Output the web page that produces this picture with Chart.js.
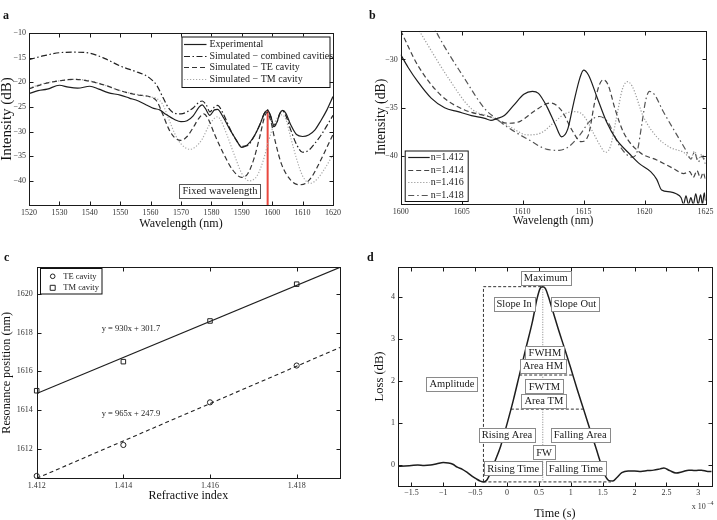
<!DOCTYPE html>
<html>
<head>
<meta charset="utf-8">
<script src="https://cdn.jsdelivr.net/npm/chart.js@4.4.1/dist/chart.umd.min.js"></script>
<style>
  body { margin: 0; background: #fff; width: 717px; height: 520px; position: relative; overflow: hidden; }
  canvas { position: absolute; }
  .lab { position: absolute; font: bold 12px "Liberation Serif", serif; color: #111; }
</style>
</head>
<body>
<canvas id="ca" width="358" height="250" style="left:0;top:0"></canvas>
<canvas id="cb" width="359" height="250" style="left:358px;top:0"></canvas>
<canvas id="cc" width="358" height="270" style="left:0;top:250px"></canvas>
<canvas id="cd" width="359" height="270" style="left:358px;top:250px"></canvas>
<div class="lab" style="left:3px;top:8px">a</div>
<div class="lab" style="left:369px;top:8px">b</div>
<div class="lab" style="left:4px;top:250px">c</div>
<div class="lab" style="left:367px;top:250px">d</div>
<script>
const SERIF = '"Liberation Serif", "Times New Roman", serif';

// ---- panel a : spectra ----
const aTicksX = [1520, 1530, 1540, 1550, 1560, 1570, 1580, 1590, 1600, 1610, 1620];
const aTicksY = [-40, -35, -30, -25, -20, -15, -10];
const aExperimental = [[1520,-22.3],[1523,-21.7],[1526,-21.4],[1530,-20.6],[1533,-21.0],[1536,-21.2],[1540,-20.8],[1543,-21.4],[1546,-22.1],[1550,-22.6],[1553,-23.2],[1556,-23.8],[1559,-24.7],[1561,-25.3],[1563,-25.6],[1565,-26.5],[1568,-27.6],[1570,-28.0],[1572,-27.8],[1574,-26.8],[1576,-25.0],[1577,-24.6],[1578,-25.3],[1579.5,-26.7],[1581,-25.6],[1582,-25.5],[1584,-27.2],[1586,-29.5],[1588,-31.5],[1590,-33.2],[1591,-33.0],[1592,-32.6],[1594,-31.0],[1596,-28.5],[1597.5,-26.2],[1598.5,-25.7],[1599.5,-26.8],[1600.5,-28.7],[1601.5,-28.2],[1602.5,-26.3],[1603.5,-25.7],[1604.5,-26.3],[1606,-28.5],[1608,-30.6],[1610,-31.0],[1612,-30.7],[1614,-29.7],[1616,-27.8],[1618,-25.6],[1620,-22.9]];
const aCombined = [[1520,-15.4],[1525,-14.6],[1530,-14.0],[1535,-13.9],[1540,-14.1],[1545,-15.2],[1550,-16.7],[1555,-17.8],[1558,-18.5],[1560,-19.3],[1562,-20.6],[1564,-23.0],[1566,-25.3],[1568,-26.3],[1570,-26.4],[1572,-26.0],[1574,-25.2],[1576,-24.0],[1577,-23.8],[1578.3,-24.6],[1579.5,-26.0],[1581,-25.0],[1582,-24.7],[1584,-26.5],[1586,-29.3],[1588,-31.6],[1590,-33.0],[1592,-32.8],[1594,-31.0],[1596,-28.5],[1597.5,-26.2],[1598.5,-25.6],[1599.5,-27.0],[1600.5,-29.0],[1601.5,-28.3],[1602.5,-26.4],[1603.5,-25.9],[1604.5,-26.8],[1606,-29.5],[1608,-32.6],[1610,-34.2],[1612,-33.8],[1614,-32.4],[1616,-30.8],[1618,-28.8],[1620,-26.7]];
const aTE = [[1520,-21.3],[1525,-20.3],[1530,-19.7],[1535,-19.4],[1540,-19.8],[1545,-20.6],[1550,-21.7],[1555,-22.5],[1560,-23.0],[1562,-23.8],[1564,-26.5],[1566,-29.5],[1568,-31.3],[1570,-31.8],[1572,-31.0],[1574,-29.2],[1576,-27.2],[1577.5,-26.4],[1579,-27.5],[1581,-30.5],[1584,-34.5],[1587,-37.8],[1590,-39.3],[1592,-38.5],[1594,-35.5],[1596,-30.8],[1597.5,-27.0],[1598.3,-26.1],[1599.5,-27.8],[1601,-32.0],[1603,-36.5],[1606,-39.8],[1609,-40.8],[1611,-40.5],[1613,-39.2],[1615,-37.0],[1617,-34.5],[1620,-30.6]];
const aTM = [[1520,-21.2],[1525,-20.2],[1530,-19.7],[1535,-19.4],[1540,-19.7],[1545,-20.6],[1550,-21.7],[1555,-22.4],[1558,-22.8],[1560,-23.0],[1562,-23.3],[1564,-24.5],[1566,-27.5],[1568,-30.5],[1570,-32.5],[1573,-33.6],[1575,-33.0],[1577,-31.5],[1579,-29.0],[1581,-27.3],[1582,-27.0],[1583,-27.6],[1585,-30.5],[1588,-35.5],[1590,-38.5],[1592.5,-40.0],[1595,-39.0],[1597,-36.0],[1599,-31.5],[1601,-28.0],[1603,-26.6],[1604.5,-27.5],[1606,-31.0],[1608,-35.5],[1610,-39.0],[1612.5,-40.5],[1615,-39.5],[1617,-37.8],[1620,-34.7]];
const fixedWavelength = 1598.5;
const fixedLevels = [-44.9, -25.7];

// ---- panel b : index sweep ----
const bTicksX = [1600, 1605, 1610, 1615, 1620, 1625];
const bTicksY = [-40, -35, -30];
const n1412 = [[1600,-29.5],[1600.6,-30.8],[1601.4,-32.3],[1602.5,-34.0],[1603.6,-35.0],[1604.7,-35.4],[1605.8,-35.8],[1606.9,-36.1],[1607.4,-36.3],[1607.9,-36.1],[1608.5,-35.8],[1609.3,-34.7],[1610.1,-33.6],[1610.8,-33.3],[1611.3,-33.5],[1612.0,-34.9],[1612.7,-36.8],[1613.2,-38.0],[1613.7,-37.2],[1614.2,-34.4],[1614.7,-31.9],[1615.0,-31.1],[1615.4,-31.6],[1616.1,-33.9],[1616.9,-36.5],[1617.7,-38.3],[1618.8,-39.8],[1619.6,-40.8],[1620.5,-41.6],[1621.0,-42.4],[1621.4,-43.5],[1622.1,-43.7],[1622.6,-43.9],[1623.0,-44.3],[1623.2,-45],[1623.4,-44.1],[1623.6,-45],[1623.8,-44.3],[1624.0,-45],[1624.2,-43.9],[1624.4,-45],[1624.6,-44.0],[1624.75,-45],[1624.9,-43.8],[1625,-44.6]];
const n1414 = [[1600,-27.0],[1601.4,-30.6],[1603.3,-33.7],[1605.2,-35.2],[1607.5,-36.0],[1608.8,-36.6],[1609.8,-36.4],[1611.0,-35.3],[1612.3,-34.5],[1613.2,-35.3],[1614.0,-37.2],[1614.8,-38.5],[1615.4,-37.8],[1615.9,-34.5],[1616.3,-32.6],[1616.6,-32.1],[1617.0,-32.6],[1617.6,-35.2],[1618.3,-37.6],[1619.6,-39.6],[1621.0,-40.4],[1622.4,-41.3],[1623.2,-41.8],[1623.7,-41.6],[1624.0,-42.2],[1624.3,-41.5],[1624.6,-42.3],[1624.8,-41.7],[1625,-42.4]];
const n1416 = [[1601.0,-26.0],[1601.5,-27.0],[1603.9,-31.9],[1605.8,-35.1],[1607.5,-36.0],[1609.0,-37.0],[1610.4,-37.8],[1611.5,-37.6],[1612.5,-36.6],[1613.5,-35.6],[1614.3,-35.4],[1615.0,-35.8],[1615.8,-37.6],[1616.4,-39.0],[1616.8,-39.6],[1617.2,-39.0],[1617.7,-36.0],[1618.2,-33.0],[1618.6,-32.3],[1619.0,-32.8],[1619.9,-35.9],[1621.0,-38.0],[1622.1,-39.1],[1623.2,-39.6],[1623.8,-40.2],[1624.1,-39.5],[1624.4,-40.3],[1624.7,-39.8],[1625,-40.5]];
const n1418 = [[1602.5,-26.0],[1602.9,-27.1],[1605.2,-31.9],[1606.9,-35.1],[1607.7,-36.0],[1609.0,-37.2],[1610.5,-38.3],[1612.0,-39.3],[1613.0,-39.4],[1613.8,-39.0],[1614.7,-37.8],[1615.5,-36.4],[1616.3,-35.9],[1617.0,-36.5],[1617.8,-38.6],[1618.5,-39.8],[1619.0,-40.1],[1619.4,-39.5],[1619.8,-36.5],[1620.1,-34.2],[1620.4,-33.3],[1620.8,-33.6],[1621.5,-35.3],[1622.6,-37.7],[1623.4,-39.4],[1623.8,-40.3],[1624.1,-39.6],[1624.4,-40.6],[1624.7,-40.0],[1625,-40.8]];

// ---- panel c : resonance vs index ----
const cIndex = [1.412, 1.414, 1.416, 1.418];
const cTE = [1610.6, 1612.2, 1614.4, 1616.3];
const cTM = [1615.0, 1616.5, 1618.6, 1620.5];
const cFitTM = [[1.412, 1614.86], [1.419, 1621.37]];
const cFitTE = [[1.412, 1610.48], [1.419, 1617.23]];
const cTicksY = [1612, 1614, 1616, 1618, 1620];

// ---- panel d : loss transient ----
const dTicksX = [-1.5, -1, -0.5, 0, 0.5, 1, 1.5, 2, 2.5, 3];
const dTicksY = [0, 1, 2, 3, 4];
const lossCurve = [[-1.71,-0.03],[-1.6,-0.02],[-1.5,-0.01],[-1.4,0.0],[-1.3,-0.01],[-1.2,0.0],[-1.1,0.03],[-1.0,0.06],[-0.92,0.05],[-0.85,0.02],[-0.78,-0.05],[-0.7,-0.1],[-0.62,-0.18],[-0.55,-0.26],[-0.48,-0.33],[-0.42,-0.38],[-0.37,-0.4],[-0.32,-0.36],[-0.27,-0.22],[-0.2,0.05],[-0.1,0.45],[0.0,0.98],[0.1,1.55],[0.2,2.18],[0.3,2.8],[0.4,3.42],[0.47,3.95],[0.52,4.2],[0.56,4.24],[0.6,4.2],[0.65,4.0],[0.7,3.75],[0.8,3.25],[0.9,2.78],[1.0,2.3],[1.1,1.8],[1.2,1.33],[1.3,0.85],[1.4,0.38],[1.48,0.0],[1.54,-0.25],[1.6,-0.37],[1.66,-0.38],[1.72,-0.3],[1.8,-0.18],[1.9,-0.14],[2.0,-0.14],[2.1,-0.15],[2.2,-0.13],[2.3,-0.12],[2.4,-0.09],[2.46,-0.07],[2.55,-0.13],[2.65,-0.19],[2.75,-0.16],[2.85,-0.12],[2.95,-0.13],[3.05,-0.12],[3.15,-0.15],[3.21,-0.15]];
const ampLine = [[-0.37,-0.4],[-0.37,4.24],[0.56,4.24]];
const baseLine = [[-0.37,-0.4],[1.63,-0.4]];
const hmLine = [[0.19,2.14],[1.03,2.14]];
const tmLine = [[0.06,1.33],[1.2,1.33]];
const peakLine = [[0.56,4.24],[0.56,-0.4]];
const dLabels = ['Maximum','Slope In','Slope Out','FWHM','Area HM','FWTM','Area TM','Amplitude','Rising Area','Falling Area','FW','Rising Time','Falling Time'];
const dLabelPos = [[0.607,4.44],[0.11,3.83],[1.066,3.83],[0.594,2.67],[0.564,2.35],[0.586,1.87],[0.578,1.53],[-0.864,1.93],[0.0,0.72],[1.147,0.72],[0.58,0.30],[0.097,-0.08],[1.08,-0.08]];

const pts = arr => arr.map(([x, y]) => ({x, y}));
const minus = v => String(v).replace('-', '\u2212');

// box border + inward ticks on all four sides, matlab style
const framePlugin = {
  id: 'frame',
  afterDatasetsDraw(chart) {
    const {ctx, chartArea: a, scales: {x, y}} = chart;
    ctx.save();
    ctx.strokeStyle = '#1a1a1a';
    ctx.lineWidth = 1;
    const L = Math.round(a.left) + 0.5, T = Math.round(a.top) + 0.5;
    const R = Math.round(a.right) + 0.5, B = Math.round(a.bottom) + 0.5;
    ctx.strokeRect(L, T, R - L, B - T);
    ctx.beginPath();
    x.ticks.forEach(t => {
      const p = Math.round(x.getPixelForValue(t.value)) + 0.5;
      ctx.moveTo(p, B); ctx.lineTo(p, B - 4);
      ctx.moveTo(p, T); ctx.lineTo(p, T + 4);
    });
    y.ticks.forEach(t => {
      const p = Math.round(y.getPixelForValue(t.value)) + 0.5;
      ctx.moveTo(L, p); ctx.lineTo(L + 4, p);
      ctx.moveTo(R, p); ctx.lineTo(R - 4, p);
    });
    ctx.stroke();
    ctx.restore();
  }
};
Chart.register(framePlugin);

function textBox(ctx, text, cx, cy, size, border) {
  ctx.font = size + 'px ' + SERIF;
  const w = Math.round(ctx.measureText(text).width + 6);
  const h = Math.round(size + 3);
  const x0 = Math.round(cx - w / 2) + 0.5, y0 = Math.round(cy - h / 2) + 0.5;
  ctx.fillStyle = '#fff';
  ctx.fillRect(x0, y0, w, h);
  ctx.strokeStyle = border;
  ctx.lineWidth = 1;
  ctx.strokeRect(x0, y0, w, h);
  ctx.fillStyle = '#1a1a1a';
  ctx.textAlign = 'center';
  ctx.textBaseline = 'middle';
  ctx.fillText(text, cx, cy + 0.5);
}

function lineLegend(chart, idx, box, rowY, sx0, sx1, tx, size) {
  const ctx = chart.ctx;
  ctx.save();
  ctx.fillStyle = '#fff';
  ctx.fillRect(box[0], box[1], box[2], box[3]);
  ctx.strokeStyle = '#111';
  ctx.lineWidth = 1;
  ctx.strokeRect(box[0] + 0.5, box[1] + 0.5, box[2], box[3]);
  ctx.font = size + 'px ' + SERIF;
  ctx.textAlign = 'left';
  ctx.textBaseline = 'middle';
  idx.forEach((di, i) => {
    const ds = chart.data.datasets[di];
    const y = Math.round(rowY[i]) + 0.5;
    ctx.strokeStyle = ds.borderColor;
    ctx.lineWidth = ds.borderWidth;
    ctx.setLineDash(ds.borderDash || []);
    ctx.beginPath(); ctx.moveTo(sx0, y); ctx.lineTo(sx1, y); ctx.stroke();
    ctx.setLineDash([]);
    ctx.fillStyle = '#1a1a1a';
    ctx.fillText(ds.label, tx, y);
  });
  ctx.restore();
}

function panel(id, plot, xs, ys, datasets, extra) {
  const cv = document.getElementById(id);
  const W = cv.width, H = cv.height;
  const tickFont = {family: SERIF, size: 8};
  return new Chart(cv, {
    type: 'line',
    data: {datasets},
    options: {
      responsive: false,
      animation: false,
      devicePixelRatio: 1,
      layout: {padding: {left: 0, top: plot.t, right: W - plot.r, bottom: 0}},
      plugins: {legend: {display: false}, tooltip: {enabled: false}},
      elements: {point: {radius: 0}, line: {borderWidth: 1.2}},
      scales: {
        x: {
          type: 'linear', min: xs.min, max: xs.max,
          grid: {display: false, drawTicks: false}, border: {display: false},
          afterBuildTicks: s => { s.ticks = xs.ticks.map(v => ({value: v})); },
          afterFit: s => { s.height = H - plot.b; },
          ticks: {font: tickFont, color: '#333', padding: xs.pad, maxRotation: 0, autoSkip: false, callback: v => minus(v)},
          title: {display: true, text: xs.title, color: '#111',
                  font: {family: SERIF, size: xs.size, lineHeight: xs.lh || 1.2},
                  padding: {top: 0, bottom: xs.tpad}}
        },
        y: {
          type: 'linear', min: ys.min, max: ys.max,
          grid: {display: false, drawTicks: false}, border: {display: false},
          afterBuildTicks: s => { s.ticks = ys.ticks.map(v => ({value: v})); },
          afterFit: s => { s.width = plot.l; },
          ticks: {font: tickFont, color: '#333', padding: ys.pad, autoSkip: false, callback: v => minus(v)},
          title: {display: true, text: ys.title, color: '#111',
                  font: {family: SERIF, size: ys.size, lineHeight: ys.lh || 1.2},
                  padding: {top: ys.tpad, bottom: 0}}
        }
      }
    },
    plugins: [extra]
  });
}

const mono = 'monotone';

// panel a
panel('ca', {l: 29, t: 33, r: 333, b: 205},
  {min: 1520, max: 1620, ticks: aTicksX, pad: 3, title: 'Wavelength (nm)', size: 12, tpad: 18.8},
  {min: -44.9, max: -10, ticks: aTicksY, pad: 3, title: 'Intensity (dB)', size: 15, lh: 1.0, tpad: 0},
  [
    {label: 'Experimental', data: pts(aExperimental), borderColor: '#1e1e1e', borderWidth: 1.2, cubicInterpolationMode: mono},
    {label: 'Simulated \u2212 combined cavities', data: pts(aCombined), borderColor: '#222', borderWidth: 1.2, borderDash: [6, 2.5, 1.5, 2.5], cubicInterpolationMode: mono},
    {label: 'Simulated \u2212 TE cavity', data: pts(aTE), borderColor: '#333', borderWidth: 1.2, borderDash: [5, 3], cubicInterpolationMode: mono},
    {label: 'Simulated \u2212 TM cavity', data: pts(aTM), borderColor: '#a8a8a8', borderWidth: 1.2, borderDash: [1.2, 1.8], cubicInterpolationMode: mono},
    {label: 'fixed', data: fixedLevels.map(v => ({x: fixedWavelength, y: v})), borderColor: '#e9483f', borderWidth: 2, tension: 0}
  ],
  {id: 'aNotes', afterDraw(chart) {
    const {ctx, scales: {x, y}, chartArea: a} = chart;
    ctx.save();
    textBox(ctx, 'Fixed wavelength', x.getPixelForValue(1582.8), y.getPixelForValue(-42.0), 10.5, '#555');
    ctx.restore();
    lineLegend(chart, [0, 1, 2, 3], [a.left + 152.5, a.top + 3.5, 148, 50.5],
      [a.top + 10.5, a.top + 22.5, a.top + 34.3, a.top + 46], a.left + 155, a.left + 177.5, a.left + 180.5, 10);
  }});

// panel b
panel('cb', {l: 42.7, t: 30.5, r: 349, b: 203.5},
  {min: 1600, max: 1625, ticks: bTicksX, pad: 3.5, title: 'Wavelength (nm)', size: 11.6, tpad: 22.3},
  {min: -44.9, max: -27, ticks: bTicksY, pad: 3, title: 'Intensity (dB)', size: 13.7, tpad: 14.8},
  [
    {label: 'n=1.412', data: pts(n1412), borderColor: '#1e1e1e', borderWidth: 1.2, cubicInterpolationMode: mono},
    {label: 'n=1.414', data: pts(n1414), borderColor: '#444', borderWidth: 1.2, borderDash: [5, 3], cubicInterpolationMode: mono},
    {label: 'n=1.416', data: pts(n1416), borderColor: '#9a9a9a', borderWidth: 1.2, borderDash: [1.2, 1.8], cubicInterpolationMode: mono},
    {label: 'n=1.418', data: pts(n1418), borderColor: '#555', borderWidth: 1.2, borderDash: [6, 3, 1.5, 3], cubicInterpolationMode: mono}
  ],
  {id: 'bNotes', afterDraw(chart) {
    const a = chart.chartArea;
    lineLegend(chart, [0, 1, 2, 3], [a.left + 4, 150.5, 63, 50.5],
      [157, 169.5, 182, 194.5], a.left + 7.5, a.left + 29, a.left + 30, 10);
  }});

// panel c
panel('cc', {l: 36.7, t: 17.3, r: 340, b: 228.3},
  {min: 1.412, max: 1.419, ticks: cIndex, pad: 2.5, title: 'Refractive index', size: 12, tpad: 17.1},
  {min: 1610.48, max: 1621.37, ticks: cTicksY, pad: 4, title: 'Resonance position (nm)', size: 12.2, lh: 1.0, tpad: 0.6},
  [
    {label: 'TE cavity', data: cIndex.map((v, i) => ({x: v, y: cTE[i]})), showLine: false, pointStyle: 'circle', pointRadius: 2.6, borderColor: '#222', backgroundColor: 'rgba(0,0,0,0)', pointBorderWidth: 1, clip: false},
    {label: 'TM cavity', data: cIndex.map((v, i) => ({x: v, y: cTM[i]})), showLine: false, pointStyle: 'rect', pointRadius: 3.2, borderColor: '#222', backgroundColor: 'rgba(0,0,0,0)', pointBorderWidth: 1, clip: false},
    {label: 'TM fit', data: pts(cFitTM), borderColor: '#1e1e1e', borderWidth: 1.1, tension: 0},
    {label: 'TE fit', data: pts(cFitTE), borderColor: '#222', borderWidth: 1.1, borderDash: [4, 3], tension: 0}
  ],
  {id: 'cNotes', afterDraw(chart) {
    const {ctx, scales: {x, y}, chartArea: a} = chart;
    ctx.save();
    ctx.font = '8.5px ' + SERIF;
    ctx.fillStyle = '#222';
    ctx.textAlign = 'left';
    ctx.textBaseline = 'middle';
    ctx.fillText('y = 930x + 301.7', x.getPixelForValue(1.4135), y.getPixelForValue(1618.18));
    ctx.fillText('y = 965x + 247.9', x.getPixelForValue(1.4135), y.getPixelForValue(1613.83));
    // legend with markers
    const bx = a.left + 3.5, by = a.top + 1;
    ctx.fillStyle = '#fff';
    ctx.fillRect(bx, by, 61.5, 25.5);
    ctx.strokeStyle = '#111';
    ctx.lineWidth = 1;
    ctx.strokeRect(Math.round(bx) + 0.5, Math.round(by) + 0.5, 61.5, 25.5);
    const rows = [by + 8, by + 19.5];
    [0, 1].forEach(i => {
      const ds = chart.data.datasets[i];
      const mx = a.left + 16, my = rows[i];
      ctx.strokeStyle = '#222';
      ctx.beginPath();
      if (ds.pointStyle === 'circle') ctx.arc(mx, my, 2.3, 0, Math.PI * 2);
      else ctx.rect(mx - 2.5, my - 2.5, 5, 5);
      ctx.stroke();
      ctx.fillStyle = '#1a1a1a';
      ctx.font = '8.5px ' + SERIF;
      ctx.fillText(ds.label, a.left + 26.6, my);
    });
    ctx.restore();
  }});

// panel d
panel('cd', {l: 40, t: 17.3, r: 353.7, b: 235.7},
  {min: -1.71, max: 3.21, ticks: dTicksX, pad: 2, title: 'Time (s)', size: 12.2, lh: 1.0, tpad: 0},
  {min: -0.49, max: 4.7, ticks: dTicksY, pad: 3, title: 'Loss (dB)', size: 12.6, tpad: 14.1},
  [
    {label: 'loss', data: pts(lossCurve), borderColor: '#1e1e1e', borderWidth: 1.5, cubicInterpolationMode: mono},
    {label: 'amp', data: pts(ampLine), borderColor: '#333', borderWidth: 1, borderDash: [3, 2], tension: 0},
    {label: 'base', data: pts(baseLine), borderColor: '#333', borderWidth: 1, borderDash: [3, 2], tension: 0},
    {label: 'hm', data: pts(hmLine), borderColor: '#333', borderWidth: 1, borderDash: [3, 2], tension: 0},
    {label: 'tm', data: pts(tmLine), borderColor: '#333', borderWidth: 1, borderDash: [3, 2], tension: 0},
    {label: 'peak', data: pts(peakLine), borderColor: '#999', borderWidth: 1.2, borderDash: [1, 1.5], tension: 0}
  ],
  {id: 'dNotes', afterDraw(chart) {
    const {ctx, scales: {x, y}, chartArea: a} = chart;
    ctx.save();
    dLabels.forEach((t, i) => {
      textBox(ctx, t, x.getPixelForValue(dLabelPos[i][0]), y.getPixelForValue(dLabelPos[i][1]), 10.5, '#8a8a8a');
    });
    ctx.fillStyle = '#333';
    ctx.textAlign = 'left';
    ctx.textBaseline = 'middle';
    ctx.font = '8px ' + SERIF;
    ctx.fillText('x 10', a.right - 20, 256.7);
    ctx.font = '6px ' + SERIF;
    ctx.fillText('\u22124', a.right - 4.5, 253);
    ctx.restore();
  }});
</script>
</body>
</html>
